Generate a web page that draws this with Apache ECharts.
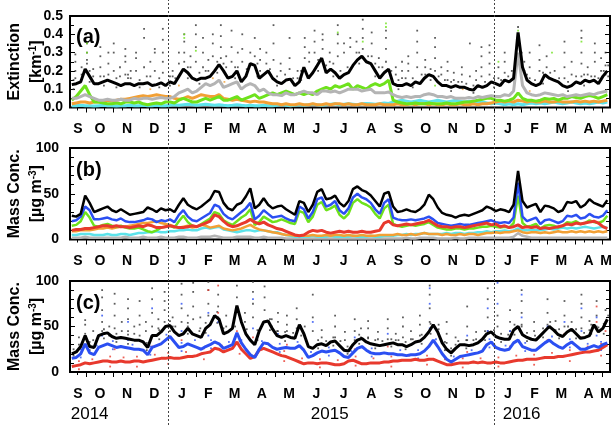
<!DOCTYPE html>
<html><head><meta charset="utf-8">
<script src="https://cdn.jsdelivr.net/npm/echarts@6/dist/echarts.min.js"></script>
<style>html,body{margin:0;padding:0;background:#fff}#c{width:613px;height:425px}</style>
</head><body><div id="c"></div><script>
// ---- time axis (days relative to 1 Jan 2015) ----
const xMin = -110, xMax = 495;           // 13 Sep 2014 .. 10 May 2016
const startDay = -108, stepDays = 5;     // sampling of the smoothed lines
const monthStarts = [-122,-92,-61,-31,0,31,59,90,120,151,181,212,243,273,304,334,365,396,425,456,486,517];
const monthLetters = ['S','O','N','D','J','F','M','A','M','J','J','A','S','O','N','D','J','F','M','A','M'];
const yearStarts = [0, 365];
const yearLabelDays = [-88, 181, 396];
const yearLabels = ['2014','2015','2016'];

// ---- panel (a): extinction [km-1] ----
const extTotal = [0.125,0.13,0.14,0.21,0.17,0.13,0.13,0.14,0.15,0.14,
0.13,0.12,0.13,0.13,0.12,0.13,0.13,0.135,0.12,0.125,
0.135,0.12,0.14,0.13,0.17,0.21,0.19,0.16,0.15,0.16,
0.16,0.17,0.2,0.235,0.2,0.16,0.17,0.2,0.14,0.17,
0.24,0.23,0.16,0.18,0.2,0.16,0.14,0.13,0.15,0.155,
0.12,0.14,0.22,0.16,0.19,0.23,0.27,0.19,0.21,0.19,
0.16,0.18,0.19,0.23,0.26,0.28,0.25,0.24,0.2,0.16,
0.19,0.21,0.13,0.12,0.12,0.13,0.12,0.14,0.13,0.16,
0.18,0.17,0.14,0.12,0.12,0.11,0.12,0.11,0.11,0.1,
0.095,0.12,0.11,0.12,0.14,0.13,0.12,0.15,0.14,0.16,
0.41,0.22,0.15,0.13,0.12,0.13,0.18,0.16,0.15,0.14,
0.12,0.11,0.12,0.14,0.13,0.15,0.14,0.15,0.13,0.17,0.2];
const extGray = [0.05,0.05,0.06,0.07,0.06,0.05,0.04,0.04,0.045,0.04,
0.04,0.045,0.04,0.04,0.05,0.045,0.05,0.05,0.045,0.05,
0.055,0.05,0.05,0.06,0.08,0.09,0.1,0.08,0.09,0.11,
0.13,0.12,0.13,0.15,0.11,0.12,0.13,0.14,0.1,0.12,
0.13,0.12,0.09,0.1,0.08,0.07,0.07,0.065,0.08,0.07,
0.07,0.08,0.09,0.08,0.08,0.07,0.09,0.09,0.085,0.09,
0.08,0.09,0.1,0.1,0.1,0.09,0.095,0.1,0.08,0.08,
0.08,0.085,0.07,0.06,0.055,0.06,0.055,0.06,0.06,0.07,
0.075,0.07,0.06,0.06,0.055,0.06,0.05,0.05,0.05,0.055,
0.05,0.06,0.055,0.06,0.065,0.06,0.06,0.07,0.065,0.09,
0.3,0.12,0.08,0.07,0.065,0.07,0.08,0.075,0.07,0.065,
0.07,0.06,0.065,0.07,0.065,0.07,0.075,0.07,0.08,0.085,0.09];
const extGreen = [0.04,0.06,0.09,0.12,0.07,0.03,0.03,0.025,0.02,0.02,
0.025,0.02,0.03,0.03,0.025,0.03,0.02,0.015,0.02,0.025,
0.02,0.03,0.03,0.025,0.04,0.05,0.04,0.03,0.03,0.04,
0.05,0.04,0.05,0.06,0.04,0.04,0.05,0.06,0.04,0.05,
0.06,0.07,0.05,0.06,0.07,0.08,0.07,0.08,0.09,0.08,
0.07,0.08,0.07,0.08,0.07,0.09,0.1,0.11,0.1,0.12,
0.11,0.12,0.13,0.1,0.12,0.11,0.1,0.12,0.13,0.12,
0.13,0.15,0.04,0.03,0.025,0.02,0.02,0.025,0.02,0.02,
0.025,0.02,0.02,0.02,0.025,0.02,0.02,0.025,0.03,0.03,
0.035,0.04,0.045,0.05,0.05,0.04,0.04,0.035,0.04,0.05,
0.08,0.05,0.04,0.04,0.035,0.04,0.05,0.045,0.05,0.04,
0.05,0.05,0.06,0.055,0.05,0.06,0.065,0.06,0.05,0.06,0.07];
const extOrange = [0.02,0.025,0.03,0.03,0.025,0.03,0.03,0.035,0.04,0.035,
0.04,0.045,0.045,0.05,0.055,0.06,0.065,0.06,0.065,0.07,
0.065,0.06,0.06,0.05,0.045,0.05,0.06,0.05,0.06,0.07,
0.065,0.06,0.06,0.07,0.05,0.045,0.04,0.045,0.04,0.035,
0.03,0.035,0.03,0.03,0.025,0.02,0.02,0.015,0.02,0.015,
0.015,0.02,0.015,0.015,0.02,0.015,0.015,0.02,0.015,0.02,
0.02,0.015,0.02,0.015,0.015,0.02,0.015,0.015,0.015,0.02,
0.015,0.015,0.015,0.02,0.015,0.015,0.02,0.015,0.02,0.02,
0.015,0.02,0.015,0.015,0.02,0.015,0.015,0.02,0.015,0.015,
0.02,0.015,0.02,0.02,0.025,0.03,0.035,0.03,0.035,0.03,
0.04,0.035,0.03,0.035,0.03,0.03,0.035,0.03,0.03,0.035,
0.03,0.03,0.03,0.035,0.03,0.035,0.03,0.035,0.03,0.035,0.04];
const extCyan = [0.01,0.01,0.012,0.01,0.01,0.008,0.01,0.012,0.01,0.01,
0.008,0.01,0.01,0.012,0.01,0.01,0.012,0.01,0.01,0.012,
0.01,0.01,0.012,0.015,0.012,0.015,0.018,0.015,0.012,0.015,
0.018,0.015,0.012,0.015,0.012,0.01,0.012,0.015,0.012,0.01,
0.012,0.01,0.01,0.012,0.01,0.01,0.012,0.015,0.012,0.01,
0.012,0.015,0.012,0.015,0.018,0.015,0.012,0.015,0.018,0.02,
0.015,0.018,0.02,0.018,0.015,0.02,0.022,0.02,0.018,0.02,
0.025,0.022,0.03,0.035,0.04,0.035,0.03,0.035,0.04,0.035,
0.03,0.035,0.04,0.035,0.03,0.035,0.04,0.035,0.03,0.035,
0.03,0.025,0.03,0.025,0.02,0.025,0.02,0.015,0.02,0.015,
0.02,0.015,0.02,0.025,0.02,0.025,0.02,0.025,0.03,0.025,
0.02,0.025,0.03,0.025,0.02,0.025,0.02,0.025,0.03,0.025,0.03];
// hourly points: [day, value, value, ...]
const extDots = [[-104,0.16,0.2,0.25,0.29],[-97,0.18,0.22],[-91,0.24,0.26,0.3,0.35],[-84,0.17,0.21],
[-76,0.17,0.22,0.28,0.33],[-67,0.18,0.24,0.3],[-61,0.2,0.3,0.35],[-54,0.17,0.22],[-48,0.18,0.25,0.28,0.32],
[-42,0.16,0.2],[-36,0.2,0.27,0.3],[-27,0.22,0.38,0.43],[-20,0.17,0.25],[-15,0.2,0.3,0.32],
[-6,0.19,0.25,0.3,0.37,0.43],[5,0.17,0.2],[12,0.24,0.3],[18,0.25,0.3,0.36,0.4],[25,0.22,0.28],
[31,0.25,0.33,0.4,0.45],[39,0.22,0.3,0.38],[45,0.2,0.26],[50,0.28,0.35,0.4],[59,0.27,0.33,0.39,0.45],
[65,0.22,0.28],[71,0.25,0.33,0.42],[78,0.22,0.3],[83,0.25,0.32,0.4],[92,0.23,0.3],[97,0.28,0.38],
[103,0.2,0.26,0.32],[110,0.24,0.3],[118,0.26,0.35,0.45],[126,0.2,0.24],[136,0.21,0.27,0.38],
[145,0.16,0.2],[153,0.27,0.33,0.38],[158,0.25,0.3],[164,0.3,0.36,0.42],[173,0.32,0.37,0.4],
[181,0.25,0.3],[190,0.28,0.35,0.4,0.45],[197,0.3,0.35],[204,0.33,0.38],[211,0.3,0.36],
[218,0.32,0.38,0.43,0.48],[228,0.28,0.35,0.41],[236,0.22,0.27],[244,0.25,0.32,0.38,0.42],
[255,0.18,0.22],[262,0.16,0.2,0.25],[269,0.2,0.24,0.28],[279,0.22,0.3,0.36,0.42],[288,0.18,0.22,0.26],
[299,0.2,0.27,0.33,0.38],[306,0.18,0.22],[313,0.15,0.2,0.25],[320,0.15,0.19],[329,0.14,0.18,0.22],
[338,0.17,0.35],[345,0.15,0.2],[351,0.17,0.22,0.28,0.33],[360,0.18,0.24,0.3,0.34],[370,0.16,0.22],
[377,0.19,0.25,0.3],[385,0.15,0.2],[392,0.36,0.4,0.44],[399,0.2,0.25],[405,0.16,0.22,0.3],
[416,0.2,0.26,0.34],[424,0.17,0.22,0.28],[433,0.15,0.2],[444,0.16,0.22,0.3,0.36],[452,0.18,0.25],
[463,0.17,0.24,0.3,0.38,0.42],[470,0.18,0.22],[478,0.17,0.25,0.3,0.35],[485,0.2,0.27],[490,0.18,0.23,0.3]];
const extDotsNear = [[-106,0.1,0.15],[-88,0.2,0.14],[-72,0.17,0.12],[-58,0.16,0.11],[-45,0.16,0.18],[-32,0.15,0.11],
[-24,0.17],[-10,0.16,0.11],[2,0.17,0.12],[8,0.16],[22,0.22,0.16],[35,0.19,0.13],[42,0.2],[55,0.25,0.19],[62,0.24],
[75,0.22,0.16],[88,0.21],[100,0.24,0.17],[114,0.21],[122,0.17,0.12],[131,0.18],[140,0.16],[149,0.2,0.15],
[168,0.26,0.2],[177,0.23],[185,0.24,0.17],[193,0.2],[201,0.22],[214,0.3,0.24],[224,0.28],[232,0.24,0.17],
[240,0.22],[250,0.2],[258,0.15,0.1],[266,0.16],[274,0.16,0.11],[284,0.18],[294,0.21,0.15],[303,0.17],
[310,0.15],[317,0.14,0.09],[325,0.14],[334,0.13],[342,0.12,0.08],[355,0.14],[365,0.16,0.11],[373,0.15],
[381,0.17],[388,0.2,0.14],[396,0.3,0.22],[402,0.18],[411,0.15],[420,0.19,0.13],[428,0.19],[438,0.16],
[448,0.14,0.09],[457,0.17],[466,0.18,0.12],[474,0.17],[482,0.16],[488,0.2],[493,0.23,0.17]];
const extGreenDots = [[-91,0.3,0.35],[18,0.38,0.4],[31,0.31],[190,0.41],[218,0.36],[244,0.44,0.46],[299,0.12],[370,0.25],[392,0.42],[430,0.3],[463,0.36]];
const extOrangeDots = [[-20,0.1],[12,0.12],[50,0.16],[63,0.14],[330,0.1],[405,0.09]];

// ---- panel (b): mass concentration [ug m-3] ----
const massTotal = [26,25,28,48,40,30,32,34,36,32,30,33,30,27,28,29,30,35,33,30,
34,32,33,30,38,45,38,35,33,36,40,44,53,52,40,34,32,38,40,47,
56,34,38,45,38,34,36,37,33,30,27,42,40,30,38,52,55,44,45,48,
40,36,42,55,58,54,52,48,42,36,50,52,36,30,31,33,31,30,33,38,
49,44,35,29,27,26,24,26,27,26,28,30,32,36,34,31,33,32,30,38,
75,42,35,37,39,30,37,36,34,30,32,41,40,42,35,38,44,40,38,36,43];
const massBlue = [20,21,25,36,32,22,22,23,24,22,21,23,20,19,19,20,21,23,22,19,
21,20,22,19,27,32,25,21,20,23,26,29,38,36,28,24,22,26,30,34,
40,22,26,32,28,24,25,26,23,21,20,36,33,23,30,44,46,36,38,42,
32,28,34,46,50,46,44,40,33,28,40,44,24,22,21,21,22,21,22,23,
25,22,18,17,16,15,16,17,16,16,17,18,19,20,21,19,18,19,18,24,
62,25,20,22,24,17,21,22,20,18,20,26,25,27,23,24,28,25,24,26,32];
const massGreen = [15,16,20,30,24,15,14,16,17,15,14,15,13,12,12,13,11,9,8,10,
13,14,15,13,20,26,19,15,14,17,20,23,30,28,21,18,16,20,24,27,
33,16,19,25,22,19,20,22,20,18,17,31,29,19,25,38,41,32,34,37,
27,23,28,40,44,40,38,35,28,23,34,38,17,15,14,15,16,15,16,17,
19,16,13,12,11,11,12,12,11,12,12,13,14,14,15,14,13,14,13,18,
48,18,14,15,17,12,15,16,15,13,15,19,18,20,17,18,21,19,18,20,26];
const massRed = [10,11,11,12,12,13,14,15,15,14,15,14,14,13,14,15,14,16,15,13,
13,14,15,14,13,13,14,15,14,16,18,20,27,25,20,16,14,15,17,19,
22,19,17,19,16,14,12,11,9,7,5,4,5,8,10,9,10,8,7,8,
9,8,9,8,8,9,8,8,9,10,18,20,16,15,16,17,16,17,18,19,
21,18,15,14,14,13,14,14,13,14,15,16,17,18,16,17,14,15,13,14,
16,13,14,13,14,12,13,12,13,14,15,17,16,18,17,18,19,20,18,14,12];
const massOrange = [9,9,10,10,10,11,12,12,13,12,13,14,14,15,16,17,18,18,19,20,
18,17,16,14,13,14,15,13,14,16,15,13,14,15,12,11,10,11,12,14,
16,13,11,10,9,8,7,6,5,5,4,4,4,4,5,4,4,5,4,5,
5,4,5,4,4,5,4,4,4,5,5,5,5,6,5,5,6,5,6,7,
6,6,6,5,6,5,5,6,5,6,6,5,6,7,7,8,7,8,8,9,
10,8,7,8,8,7,8,7,8,9,8,8,9,8,9,8,9,8,9,8,9];
const massCyan = [5,5,6,6,6,5,5,5,6,5,5,6,6,5,6,7,7,8,8,9,
8,8,9,9,10,10,11,10,10,12,13,12,13,14,11,10,9,8,9,10,
10,9,10,10,9,8,8,6,5,4,3,3,3,3,4,3,3,3,4,3,
3,3,3,4,3,3,3,4,3,3,4,4,4,5,5,6,5,6,6,7,
6,6,6,6,7,6,7,7,6,7,7,8,8,9,8,9,9,10,9,10,
12,10,10,11,10,10,11,12,11,12,13,12,13,12,13,14,13,12,13,14,13];
const massGray = [2,2,2,3,2,2,2,2,2,2,2,2,3,2,2,2,3,2,2,2,
3,2,2,2,3,3,2,2,2,3,3,3,4,3,2,2,2,3,3,3,
3,2,2,3,2,2,2,2,1,1,1,1,1,1,1,1,1,1,1,1,
1,1,1,1,1,1,1,1,1,1,1,1,1,1,1,2,1,1,2,2,
2,2,1,1,1,1,2,1,1,2,2,2,2,2,2,2,2,2,2,3,
7,4,3,2,2,2,2,2,2,2,2,2,2,2,2,2,2,2,2,2,2];

// ---- panel (c): mass concentration [ug m-3] ----
const pmTotal = [20,22,28,40,28,27,40,42,43,39,37,38,37,36,35,35,33,27,40,40,
44,50,51,44,40,42,48,42,40,38,48,52,62,58,42,44,48,73,55,42,
35,30,45,55,56,47,40,38,40,38,37,52,42,28,26,30,31,29,33,34,
29,24,23,30,35,37,33,31,30,29,30,31,32,30,30,28,30,33,34,38,
44,52,44,32,25,21,26,30,30,29,30,32,36,42,44,39,37,36,36,46,
50,41,38,36,35,40,45,50,46,41,39,44,47,42,37,38,40,52,44,48,58];
const pmBlue = [15,16,20,31,21,19,27,29,31,29,27,28,27,26,25,25,24,19,27,29,
31,35,39,33,27,28,31,29,27,25,28,30,33,31,26,28,30,43,32,25,
19,16,25,32,31,27,25,26,27,26,26,29,24,16,18,21,23,22,23,24,
21,17,16,21,26,28,24,21,20,20,21,20,20,19,19,18,19,19,20,23,
28,35,28,20,14,11,14,17,18,19,20,21,23,30,33,27,25,24,25,32,
35,28,26,24,24,28,32,35,31,28,26,30,33,29,25,25,27,29,27,30,32];
const pmRed = [6,7,8,10,9,10,11,12,12,11,11,12,11,11,12,12,11,12,13,14,
15,15,16,15,15,16,17,17,18,20,21,22,26,25,22,24,26,33,25,20,
15,17,24,26,24,22,20,18,17,15,13,11,9,10,10,9,10,10,9,8,
8,9,12,13,11,9,9,10,10,10,11,11,12,12,13,13,13,14,13,13,
14,14,12,10,8,8,9,10,10,10,11,10,11,10,10,11,10,10,11,12,
13,13,14,14,14,15,16,16,16,17,17,18,19,20,21,22,22,23,24,27,30];
const pmDots = [[-100,30,38],[-93,30,42,52,57],[-84,35,45],[-74,45,55,68,82,90],[-66,40,50],[-60,48,62,75,86],
[-52,45,55],[-45,45,58,70,80],[-38,42,50],[-32,52,62,78],[-25,45,55],[-18,50,65,80,92],[-11,48,58],
[-4,55,68,78,88],[5,50,60],[15,55,70,85,97],[22,50,62],[28,58,72,88,98],[36,48,60],[45,62,75,90,99],
[56,60,72,85],[65,50,62],[77,70,82,95],[86,55,65],[95,60,75,88,99],[108,55,68,82,94],[116,50,58],
[123,45,55,65],[133,45,52,62],[144,48,58,70],[153,40,50],[162,45,60,85],[172,38,46],[187,38,50,62],
[198,35,44],[209,35,45,58],[216,38,48],[224,38,48,56],[235,36,44],[246,36,48,58],[255,35,42],
[263,38,50,60],[272,36,45],[282,40,52,62],[293,55,70,85,95],[303,42,52],[312,32,42,55],[322,30,38],
[335,35,50,72],[345,36,44],[358,45,60,80,92],[369,50,62],[383,45,55,68],[396,52,65,78,90],[410,45,55],
[425,52,65,80],[434,46,56],[444,50,62,78],[452,45,55],[463,48,60,75,85],[472,46,56],[480,50,62,78],[490,55,68]];
const pmDotsNear = [[-106,18,25],[-88,33,24],[-72,47,37],[-58,42,33],[-45,41,31],[-32,40],[-24,32,24],[-10,46,36],
[2,56,45],[8,50],[22,54,42],[35,45],[42,54,43],[55,66,54],[62,48],[75,64,50],[88,47],[100,46,35],[114,58,46],
[122,45],[131,44,34],[140,43],[149,50,40],[168,35,26],[177,34],[185,38,29],[193,34],[201,28,20],[214,41,31],
[224,37],[232,35,26],[240,34],[250,36,28],[258,35],[266,33,25],[274,36],[284,41,31],[294,53,42],[303,47],
[310,33,24],[317,26,18],[325,34],[334,35,26],[342,35],[355,45,35],[365,46],[373,42,33],[381,41],[388,52,41],
[396,50],[402,43,34],[411,40],[420,48,38],[428,55],[438,47,37],[448,50],[457,47,37],[466,43],[474,52,42],
[482,49],[488,53,42],[493,62]];
const pmBlueDots = [[-74,40,62],[-45,35,55],[-18,40,70],[15,45,75],[45,40,65],[56,55],[95,48,80],[123,42],
[162,55],[209,38],[246,42],[293,48,75,92],[335,40],[358,45,70],[369,75,98],[383,45],[396,60,85],[425,50],
[444,55],[463,45,70],[480,40,60],
[-98,25,16],[-80,29],[-62,34,25],[-40,30],[-20,28,19],[-2,41],[15,32,23],[30,35],[48,35,26],[68,33],[82,35,25],
[105,34],[125,31,22],[145,33],[160,22],[180,27,18],[205,23],[228,26,17],[260,24],[280,24,15],[300,36],[320,17,9],
[340,24],[360,36,27],[378,29],[400,32,23],[430,39],[450,36,27],[470,31],[485,33,24]];
const pmRedDots = [[-60,25],[-18,28],[15,35],[45,50,90],[56,65,95],[77,45],[95,38],[133,30],[209,25],
[246,28],[293,30],[335,22],[383,28],[425,35],[444,42],[463,38],[480,55,72],[490,45],
[-100,3,12],[-85,14],[-65,6,17],[-50,16],[-35,6,17],[-15,19],[0,9,21],[20,22],[40,14,26],[60,29],[80,20,34],
[110,31],[130,12,23],[150,15],[170,5,14],[190,13],[210,7,17],[230,15],[250,6,17],[270,18],[290,8,18],[310,14],
[330,5,15],[350,15],[370,6,16],[390,18],[410,8,19],[430,21],[450,12,24],[470,28],[485,18,31]];

// ---- build ----
const days = extTotal.map((_, i) => startDay + i * stepDays);
const pairs = arr => arr.map((v, i) => [days[i], v]);
const cols = c => { const o = []; c.forEach(r => { for (let k = 1; k < r.length; k++) o.push([r[0], r[k]]); }); return o; };
const monthMids = [], monthLabelOut = [];
for (let m = 0; m < monthStarts.length - 1; m++) {
  const a = Math.max(monthStarts[m], xMin), b = Math.min(monthStarts[m + 1], xMax);
  if (b > a) { monthMids.push((a + b) / 2); monthLabelOut.push(monthLetters[m]); }
}
const tickMajor = monthStarts.filter(d => d > xMin && d < xMax);
const tickMinor = [];
monthStarts.forEach(d => { [10, 20].forEach(k => { if (d + k > xMin && d + k < xMax) tickMinor.push(d + k); }); });

const FF = 'Liberation Sans, Arial, Helvetica, sans-serif';
const grids = [
  {top: 16, height: 91.5},
  {top: 148, height: 91.5},
  {top: 281, height: 91},
  {top: 0, bottom: 0}
].map((g, i) => Object.assign({left: 70, right: 3, show: i < 3, borderColor: '#000', borderWidth: 2,
  backgroundColor: 'transparent', containLabel: false, outerBoundsMode: 'none'}, g));

const noLine = {show: false, onZero: false};
const xAxis = [], yAxis = [];
for (let g = 0; g < 3; g++) {
  xAxis.push({type: 'value', gridIndex: g, position: 'bottom', min: xMin, max: xMax, axisLine: noLine, splitLine: {show: false},
    axisTick: {show: true, customValues: tickMajor, length: 5, lineStyle: {color: '#000', width: 1}},
    axisLabel: {show: true, customValues: monthMids, formatter: v => monthLabelOut[monthMids.indexOf(v)],
      margin: 15, fontSize: 14, fontWeight: 'bold', fontFamily: FF, color: '#000'}});
  xAxis.push({type: 'value', gridIndex: g, position: 'bottom', min: xMin, max: xMax, axisLine: noLine, splitLine: {show: false},
    axisTick: {show: true, customValues: tickMinor, length: 3, lineStyle: {color: '#000', width: 1}},
    axisLabel: {show: false}});
}
xAxis.push({type: 'value', gridIndex: 2, position: 'bottom', min: xMin, max: xMax, axisLine: noLine, splitLine: {show: false},
  axisTick: {show: false},
  axisLabel: {show: true, customValues: yearLabelDays, formatter: v => yearLabels[yearLabelDays.indexOf(v)],
    margin: 34, fontSize: 17, fontFamily: FF, color: '#000'}});
xAxis.push({type: 'value', gridIndex: 3, position: 'bottom', min: xMin, max: xMax, show: false, axisLine: noLine});

const nameStyle = {fontSize: 16, fontWeight: 'bold', fontFamily: FF, color: '#000', lineHeight: 22,
  rich: {sup: {fontSize: 10, fontWeight: 'bold', fontFamily: FF, color: '#000', padding: [0, 0, 8, 0]}}};
const yDefs = [
  {max: 0.5, interval: 0.1, split: 2, fmt: v => v.toFixed(1), margin: 7, name: 'Extinction\n[km{sup|-1}]'},
  {max: 100, interval: 50, split: 5, fmt: v => String(v), margin: 11, name: 'Mass Conc.\n[µg m{sup|-3}]'},
  {max: 100, interval: 50, split: 5, fmt: v => String(v), margin: 11, name: 'Mass Conc.\n[µg m{sup|-3}]'}
];
yDefs.forEach((d, g) => {
  yAxis.push({type: 'value', gridIndex: g, min: 0, max: d.max, interval: d.interval, position: 'left',
    axisLine: noLine, splitLine: {show: false},
    axisTick: {show: true, inside: true, length: 5, lineStyle: {color: '#000'}},
    minorTick: {show: true, splitNumber: d.split, length: 4, lineStyle: {color: '#000'}},
    axisLabel: {formatter: d.fmt, margin: d.margin, fontSize: 14, fontWeight: 'bold', fontFamily: FF, color: '#000'},
    name: d.name, nameLocation: 'middle', nameGap: 22, nameRotate: 90, nameMoveOverlap: false, nameTextStyle: nameStyle});
  yAxis.push({type: 'value', gridIndex: g, min: 0, max: d.max, interval: d.interval, position: 'right',
    axisLine: noLine, splitLine: {show: false},
    axisTick: {show: true, inside: true, length: 5, lineStyle: {color: '#000'}},
    minorTick: {show: true, splitNumber: d.split, length: 4, lineStyle: {color: '#000'}},
    axisLabel: {show: false}});
});
yAxis.push({type: 'value', gridIndex: 3, min: 0, max: 1, show: false, axisLine: noLine});

const xi = g => g * 2;   // main x axis index for grid g
const yi = g => g * 2;
const line = (g, data, color, w) => ({type: 'line', xAxisIndex: xi(g), yAxisIndex: yi(g), data: pairs(data),
  showSymbol: false, symbol: 'none', lineStyle: {color, width: w}, itemStyle: {color}, silent: true, z: 3});
const dots = (g, data, color) => ({type: 'scatter', xAxisIndex: xi(g), yAxisIndex: yi(g), data: cols(data),
  symbol: 'rect', symbolSize: 1.8, itemStyle: {color}, silent: true, z: 2});

const C = {black: '#000', gray: '#b4b4b4', green: '#6ee21c', orange: '#f2a035', cyan: '#5de3ea', blue: '#2b4ff2', red: '#e8392d'};
const series = [
  dots(0, extDots.concat(extDotsNear), '#333'), dots(0, extGreenDots, C.green), dots(0, extOrangeDots, C.orange),
  line(0, extCyan, C.cyan, 3), line(0, extOrange, C.orange, 3), line(0, extGreen, C.green, 3),
  line(0, extGray, C.gray, 3), line(0, extTotal, C.black, 3),
  line(1, massGray, C.gray, 2.5), line(1, massCyan, C.cyan, 2.5), line(1, massOrange, C.orange, 2.5),
  line(1, massGreen, C.green, 2.5), line(1, massBlue, C.blue, 2.5), line(1, massRed, C.red, 3),
  line(1, massTotal, C.black, 2.5),
  dots(2, pmDots.concat(pmDotsNear), '#333'), dots(2, pmBlueDots, C.blue), dots(2, pmRedDots, C.red),
  line(2, pmRed, C.red, 3), line(2, pmBlue, C.blue, 3), line(2, pmTotal, C.black, 3),
  {type: 'line', xAxisIndex: xAxis.length - 1, yAxisIndex: yAxis.length - 1, data: [[0, 2]], showSymbol: false,
    lineStyle: {opacity: 0}, silent: true,
    markLine: {silent: true, symbol: 'none', label: {show: false}, animation: false,
      lineStyle: {type: [2, 2], color: '#444', width: 1}, data: yearStarts.map(d => ({xAxis: d}))}}
];

const chart = echarts.init(document.getElementById('c'), null, {renderer: 'canvas'});
chart.setOption({
  animation: false, backgroundColor: '#fff',
  grid: grids, xAxis, yAxis, series,
  graphic: [
    {type: 'text', left: 76, top: 27, style: {text: '(a)', font: 'bold 20px ' + FF, fill: '#000'}},
    {type: 'text', left: 76, top: 160, style: {text: '(b)', font: 'bold 20px ' + FF, fill: '#000'}},
    {type: 'text', left: 76, top: 293, style: {text: '(c)', font: 'bold 20px ' + FF, fill: '#000'}}
  ]
});
</script></body></html>
